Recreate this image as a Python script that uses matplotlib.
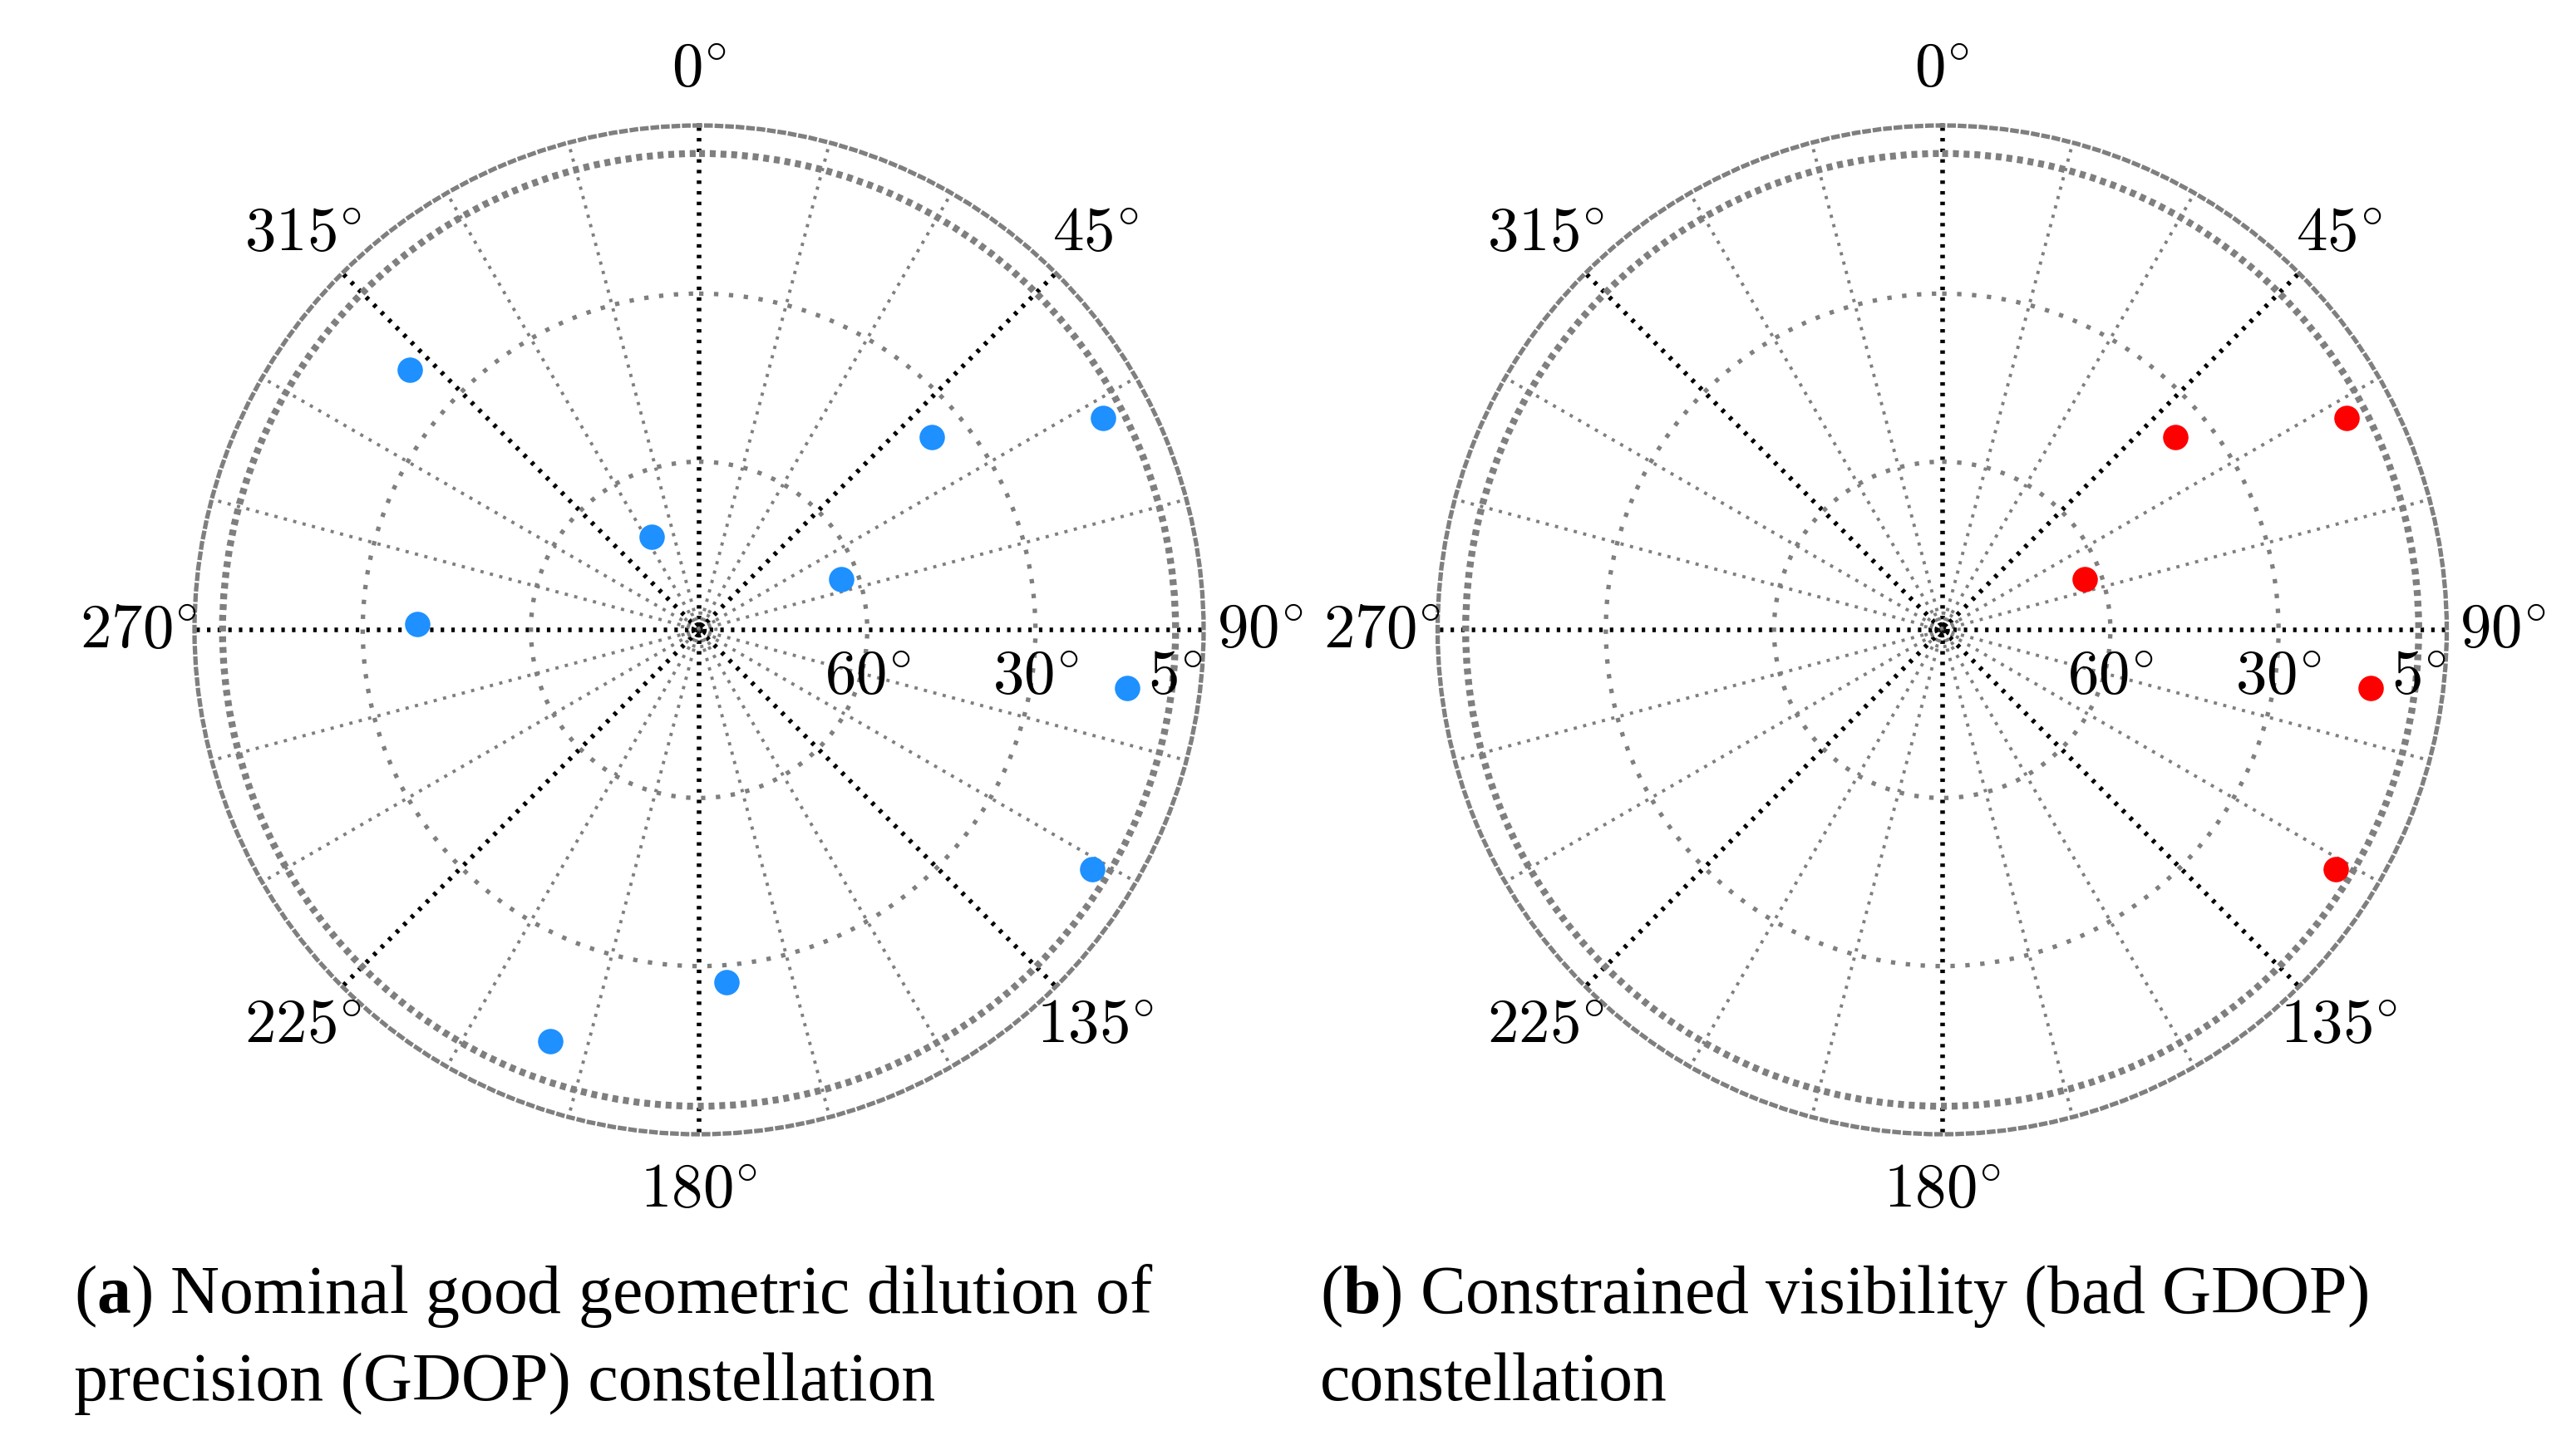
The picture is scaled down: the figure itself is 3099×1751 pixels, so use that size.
import numpy as np
import matplotlib
matplotlib.use('Agg')
import matplotlib.pyplot as plt
from matplotlib.transforms import ScaledTranslation

plt.rcParams['mathtext.fontset'] = 'custom'
plt.rcParams['mathtext.rm'] = 'Liberation Serif'
plt.rcParams['mathtext.bf'] = 'Liberation Serif:bold'
plt.rcParams['mathtext.it'] = 'Liberation Serif:italic'

# ---------------- data ----------------
az_a = [312.0, 333.2, 271.2, 50.4, 62.3, 70.5, 97.7, 121.3, 175.6, 199.9]
el_a = [20.6, 71.4, 39.7, 36.1, 8.6, 63.1, 12.9, 7.9, 26.9, 11.9]
az_b = [50.4, 62.3, 70.5, 97.7, 121.3]
el_b = [36.1, 8.6, 63.1, 12.9, 7.9]

azimuth_ticks = [0, 45, 90, 135, 180, 225, 270, 315]
azimuth_labels = [r'$0^{\circ}$', r'$45^{\circ}$', r'$90^{\circ}$', r'$135^{\circ}$',
                  r'$180^{\circ}$', r'$225^{\circ}$', r'$270^{\circ}$', r'$315^{\circ}$']
elev_ticks = [60, 30, 5]
elev_labels = [r'$60^{\circ}$', r'$30^{\circ}$', r'$5^{\circ}$']

captions = [
    [r'($\mathbf{a}$) Nominal good geometric dilution of', 'precision (GDOP) constellation'],
    [r'($\mathbf{b}$) Constrained visibility (bad GDOP)', 'constellation'],
]
colors = ['#1E90FF', '#FF0000']

# ---------------- figure ----------------
W, H, DPI = 3099, 1751, 200
fig = plt.figure(figsize=(W / DPI, H / DPI), dpi=DPI)

R_PX = 607.0
centers = [(841.0, 758.0), (2336.5, 758.0)]
GRAY = '#7f7f7f'


def make_panel(cx, cy, az, el, color):
    rect = [(cx - R_PX) / W, (H - cy - R_PX) / H, 2 * R_PX / W, 2 * R_PX / H]
    ax = fig.add_axes(rect, projection='polar')
    ax.set_theta_zero_location('N')
    ax.set_theta_direction(-1)
    ax.set_ylim(0, 90)
    ax.set_axisbelow(True)

    # azimuth grid every 15 deg
    ax.set_thetagrids(np.arange(0, 360, 15), labels=[''] * 24)
    for i, gl in enumerate(ax.xaxis.get_gridlines()):
        if (i * 15) % 45 == 0:
            gl.set_color('black')
            gl.set_linewidth(2.0)
            gl.set_linestyle((0, (0.75, 1.55)))
        else:
            gl.set_color(GRAY)
            gl.set_linewidth(1.4)
            gl.set_linestyle((0, (1, 2)))

    # elevation rings (r = 90 - elevation)
    rvals = [1, 3, 30, 60, 85]
    ax.set_rgrids(rvals, labels=[''] * len(rvals))
    styles = {
        1: ('black', 1.8, (0, (1.3, 0.6))),
        3: (GRAY, 1.4, (0, (1, 1.5))),
        30: (GRAY, 1.9, (0, (1, 2.4))),
        60: (GRAY, 1.9, (0, (1, 2.4))),
        85: (GRAY, 3.0, (0, (0.85, 0.7))),
    }
    for r, gl in zip(rvals, ax.yaxis.get_gridlines()):
        c, lw, ls = styles[r]
        gl.set_color(c)
        gl.set_linewidth(lw)
        gl.set_linestyle(ls)

    ax.spines['polar'].set_color(GRAY)
    ax.spines['polar'].set_linewidth(1.9)
    ax.spines['polar'].set_linestyle((0, (1, 1.4)))
    ax.tick_params(length=0)

    # satellites
    ax.plot(np.deg2rad(az), 90 - np.asarray(el), 'o', color=color,
            markersize=11, markeredgewidth=0, zorder=5, clip_on=False)

    # azimuth labels
    for a, lab in zip(azimuth_ticks, azimuth_labels):
        ax.text(np.deg2rad(a), 100, lab, ha='center', va='center',
                fontsize=27, math_fontfamily='cm', clip_on=False)
    # elevation labels
    off = ax.transData + ScaledTranslation(0, -56 / DPI, fig.dpi_scale_trans)
    for e, lab in zip(elev_ticks, elev_labels):
        ax.text(np.pi / 2, 90 - e, lab, ha='center', va='center',
                fontsize=27, math_fontfamily='cm', transform=off, clip_on=False)
    return ax


for (cx, cy), az, el, col in zip(centers, [az_a, az_b], [el_a, el_b], colors):
    make_panel(cx, cy, az, el, col)

# captions
cap_x = [89, 1588]
base_y = [1580, 1685]
fs = 26
renderer = fig.canvas.get_renderer()
probe = fig.text(0, 0, captions[0][0], fontsize=fs, family='Liberation Serif')
wpx = probe.get_window_extent(renderer).width
probe.remove()
fs = fs * 1300.0 / wpx
fs = min(fs, 29.5)
for x, lines in zip(cap_x, captions):
    for y, line in zip(base_y, lines):
        fig.text(x / W, 1 - y / H, line, fontsize=fs, family='Liberation Serif',
                 ha='left', va='baseline')

fig.savefig('out.png', dpi=DPI)
